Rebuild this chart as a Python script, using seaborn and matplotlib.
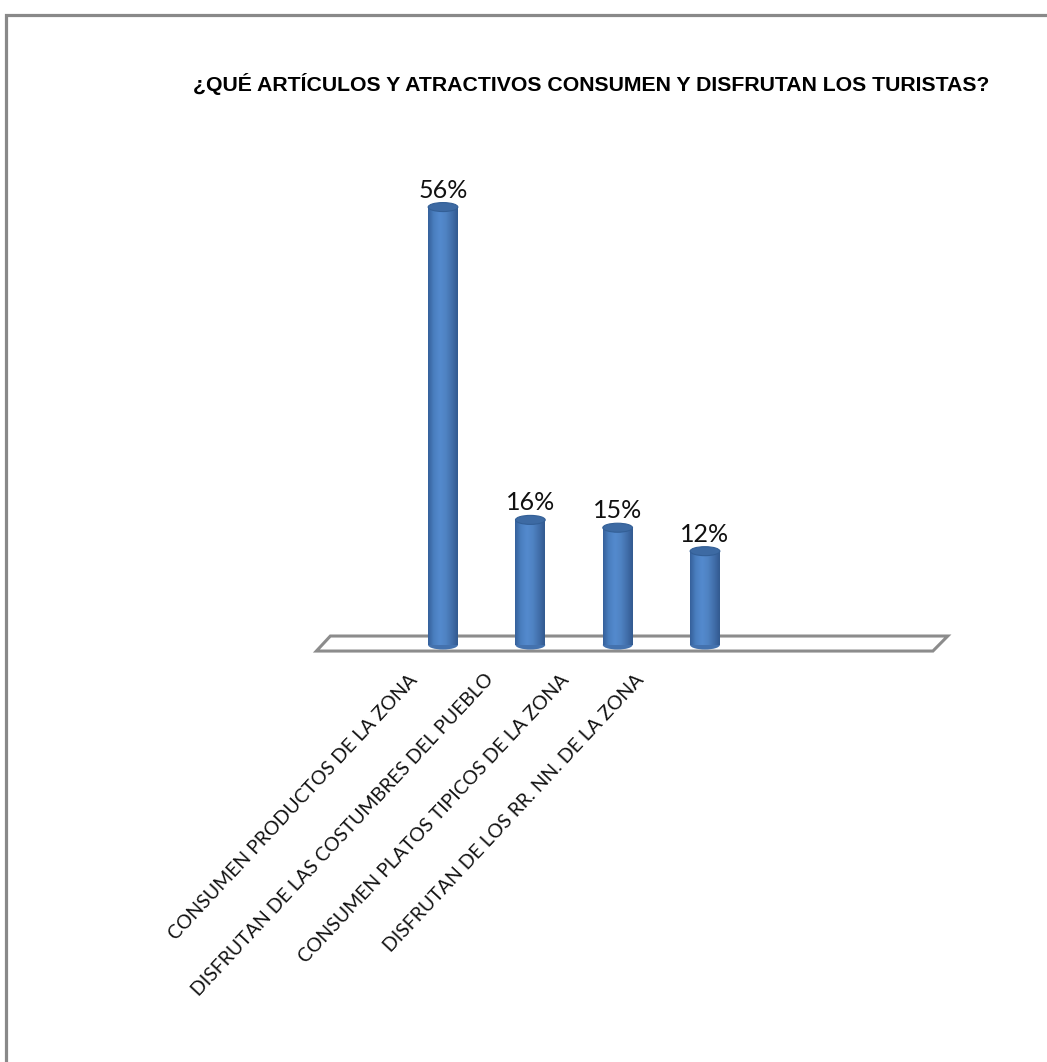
import numpy as np
import pandas as pd
import matplotlib
matplotlib.use('Agg')
import matplotlib.pyplot as plt
import seaborn as sns
from matplotlib.patches import Ellipse, Polygon, Rectangle
from matplotlib.colors import LinearSegmentedColormap
from matplotlib.transforms import ScaledTranslation

categorias = ['CONSUMEN PRODUCTOS DE LA ZONA',
              'DISFRUTAN DE LAS COSTUMBRES DEL PUEBLO',
              'CONSUMEN PLATOS TIPICOS DE LA ZONA',
              'DISFRUTAN DE LOS RR. NN. DE LA ZONA']
porcentajes = [56, 16, 15, 12]
titulo = '¿QUÉ ARTÍCULOS Y ATRACTIVOS CONSUMEN Y DISFRUTAN LOS TURISTAS?'

df = pd.DataFrame({'categoria': categorias, 'pct': porcentajes})

sns.set_style('white')
plt.rcParams['font.family'] = ['Lato', 'DejaVu Sans']

fig = plt.figure(figsize=(10.47, 10.62), dpi=100)
ax = fig.add_axes([0.2865, 0.3785, 0.6304, 0.452])

ancho = 0.34
sns.barplot(data=df, x='categoria', y='pct', color='#4F81BD', width=ancho,
            saturation=1, ax=ax, zorder=3)

# piso 3D
piso = Polygon([(-1.45, -0.77), (5.61, -0.77), (5.78, 1.15), (-1.29, 1.15)],
               closed=True, facecolor='white', edgecolor='#8c8c8c',
               linewidth=2.2, zorder=1, clip_on=False)
ax.add_patch(piso)

# cilindros
cmap = LinearSegmentedColormap.from_list(
    'cil', ['#35609a', '#4a7fc0', '#548ace', '#4f83c3', '#426fab', '#32598f'])
grad = np.linspace(0, 1, 256).reshape(1, -1)
eh = 1.15
for bar in ax.patches[:len(porcentajes)]:
    x0 = bar.get_x()
    w = bar.get_width()
    h = bar.get_height()
    bar.set_edgecolor('none')
    fondo = Ellipse((x0 + w / 2, 0), w, eh, facecolor='#4472ae',
                    edgecolor='none', zorder=2.9)
    ax.add_patch(fondo)
    im = ax.imshow(grad, cmap=cmap, extent=(x0, x0 + w, 0, h),
                   aspect='auto', zorder=3.5, interpolation='bicubic')
    im.set_clip_path(bar)
    tapa = Ellipse((x0 + w / 2, h), w, eh, facecolor='#3d6aa3',
                   edgecolor='#335f96', linewidth=0.8, zorder=4)
    ax.add_patch(tapa)

ax.set_xlim(-1.638, 5.92)
ax.set_ylim(-1.92, 59.46)

ax.bar_label(ax.containers[0], labels=[f'{v}%' for v in porcentajes],
             padding=4, fontsize=18, color='#111111', zorder=5)

ax.set_xlabel('')
ax.set_ylabel('')
ax.set_yticks([])
sns.despine(ax=ax, left=True, bottom=True)
ax.tick_params(axis='x', length=0, pad=12)
for i, lbl in enumerate(ax.get_xticklabels()):
    lbl.set_rotation(47)
    lbl.set_ha('right')
    lbl.set_va('center')
    lbl.set_rotation_mode('anchor')
    lbl.set_fontsize(14)
    lbl.set_color('#111111')
    desplaza = ScaledTranslation(-(0.28 + 0.12 * i), 0, fig.dpi_scale_trans)
    lbl.set_transform(lbl.get_transform() + desplaza)

fig.text(0.1845, 0.921, titulo, fontsize=15.3, fontweight='bold',
         family=['Liberation Sans Narrow', 'Liberation Sans', 'DejaVu Sans'],
         ha='left', va='center', color='black')

# marco gris
marco = Rectangle((5.5 / 1047, -0.05), 1.1, (1062 - 14.5) / 1062 + 0.05,
                  transform=fig.transFigure, fill=False, edgecolor='#898989',
                  linewidth=2.3, clip_on=False)
fig.patches.append(marco)

fig.savefig('out.png', dpi=100, facecolor='white')
